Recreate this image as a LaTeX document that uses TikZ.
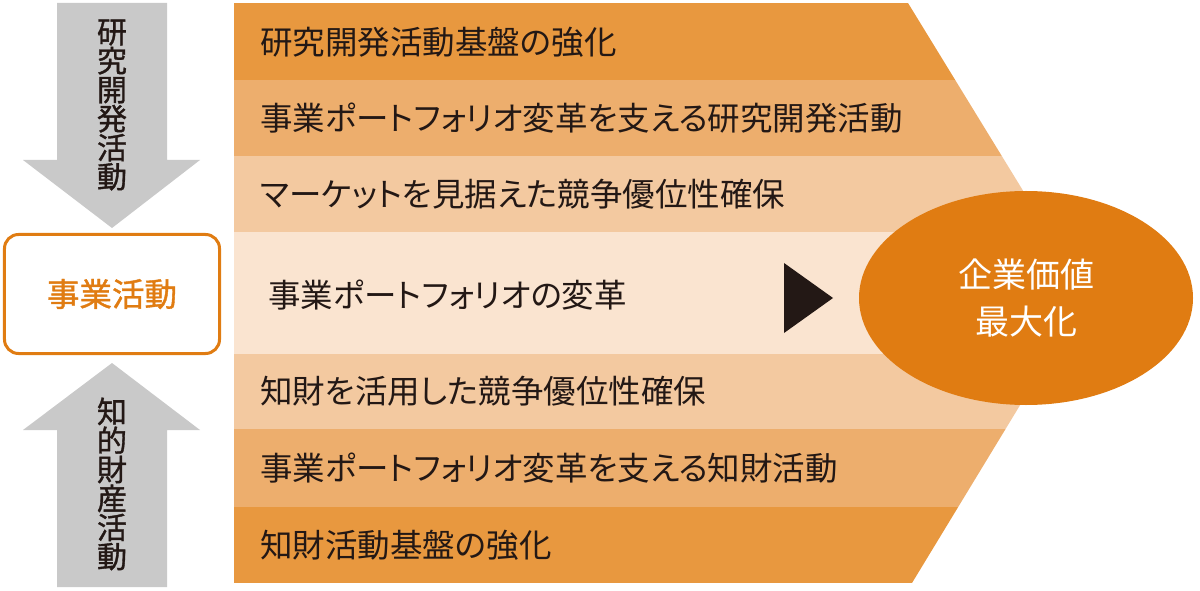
\documentclass[tikz,border=0pt]{standalone}
\usepackage{fontspec}
\setmainfont{Noto Sans CJK JP}[RawFeature=+palt]
\newfontfamily\jpmid{Noto Sans CJK JP}[RawFeature=+palt,FakeBold=1.2]
\usepackage{tikz}
\usetikzlibrary{calc}
\usetikzlibrary{shapes.geometric}
\usetikzlibrary{positioning}
\definecolor{bandA}{HTML}{E8983F}
\definecolor{bandB}{HTML}{EDAE6D}
\definecolor{bandC}{HTML}{F3C9A0}
\definecolor{bandD}{HTML}{FAE4D0}
\definecolor{valor}{HTML}{E07C12}
\definecolor{ink}{HTML}{231815}
\definecolor{flow}{HTML}{C9C9C9}
\tikzset{bandtext/.style={anchor=west,inner sep=0pt,text=ink,font=\fontsize{32.5bp}{38bp}\selectfont}}
\tikzset{tate/.style={align=center,inner sep=0pt,text=ink,font=\jpmid\fontsize{30bp}{29bp}\selectfont}}
\tikzset{goal/.style={ellipse,fill=valor,inner sep=0pt,minimum width=334bp,minimum height=214bp,text=white,align=center,font=\fontsize{34bp}{47bp}\selectfont}}
\tikzset{bizbox/.style={draw=valor,line width=3bp,rounded corners=14bp,minimum width=215bp,minimum height=119bp,text=valor,font=\jpmid\fontsize{32.5bp}{38bp}\selectfont}}

\begin{document}
\begin{tikzpicture}[x=1bp,y=-1bp]
\useasboundingbox (0,0) rectangle (1200,591);

% bands of the chevron
\begin{scope}
\clip (234,3) -- (908,3) -- (1087,295) -- (912,583) -- (234,583) -- cycle;
\foreach \ya/\yb/\c in {3/80/bandA, 80/156/bandB, 156/232/bandC, 232/354/bandD, 354/429/bandC, 429/507/bandB, 507/583/bandA}
  \fill[\c] (234,\ya) rectangle (1100,\yb);
\end{scope}

\foreach \i/\y/\t in {1/42/研究開発活動基盤の強化, 2/118/事業ポートフォリオ変革を支える研究開発活動, 3/194/マーケットを見据えた競争優位性確保, 5/391/知財を活用した競争優位性確保, 6/468/事業ポートフォリオ変革を支える知財活動, 7/545/知財活動基盤の強化}
  \node[bandtext] (b\i) at (260,\y) {\t};
\node[bandtext] (b4) at (268,295) {事業ポートフォリオの変革};

\fill[ink] (784,263) -- (833,298) -- (784,333) -- cycle;

\node[goal] (V) at (1026,298) {企業価値\\最大化};

% left column
\node[bizbox] (biz) at (112,294) {事業活動};
\fill[flow] (57,3) -- (167,3) -- (167,160) -- (200,160) -- (112,228) -- (23,160) -- (57,160) -- cycle;
\fill[flow] (57,587) -- (167,587) -- (167,430) -- (200,430) -- (112,363) -- (23,430) -- (57,430) -- cycle;
\node[tate] (rd) at (112,105) {研\\究\\開\\発\\活\\動};
\node[tate] (ip) at (112,484) {知\\的\\財\\産\\活\\動};

\end{tikzpicture}
\end{document}
